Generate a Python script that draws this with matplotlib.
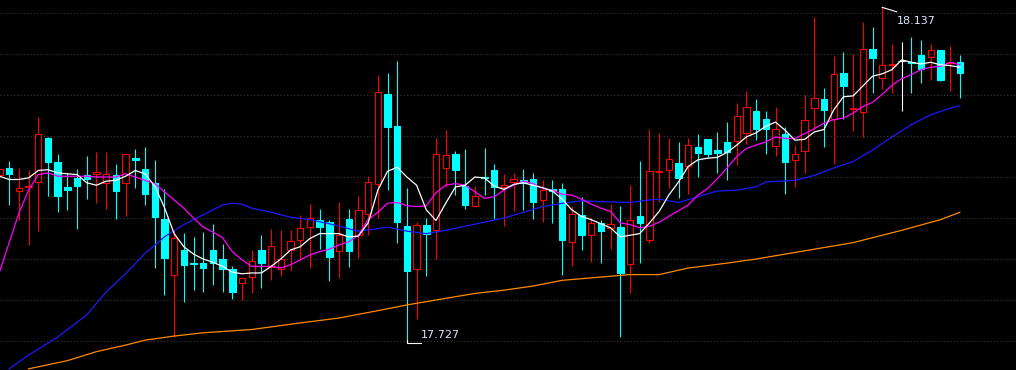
import matplotlib
matplotlib.use("Agg")
import matplotlib.pyplot as plt
import numpy as np

# daily K-line, 100 bars, prices
opens = [17.932, 17.941, 17.913, 17.918, 17.924, 17.978, 17.948, 17.918, 17.929, 17.932,
         17.934, 17.923, 17.932, 17.923, 17.953, 17.940, 17.923, 17.879, 17.811, 17.841,
         17.825, 17.825, 17.841, 17.830, 17.818, 17.801, 17.808, 17.841, 17.820, 17.818,
         17.841, 17.853, 17.869, 17.878, 17.875, 17.840, 17.879, 17.859, 17.885, 17.921,
         18.031, 17.992, 17.870, 17.818, 17.872, 17.865, 17.941, 17.958, 17.919, 17.895,
         17.930, 17.939, 17.918, 17.924, 17.926, 17.928, 17.902, 17.915, 17.915, 17.851,
         17.884, 17.859, 17.874, 17.868, 17.869, 17.824, 17.882, 17.853, 17.936, 17.939,
         17.947, 17.943, 17.967, 17.976, 17.963, 17.973, 17.974, 17.984, 18.011, 18.001,
         17.968, 17.983, 17.951, 17.962, 18.014, 18.025, 18.001, 18.057, 18.013, 18.009,
         18.086, 18.051, 18.067, 18.072, 18.070, 18.079, 18.076, 18.085, 18.069, 18.070]
highs = [17.941, 17.950, 17.941, 17.939, 18.003, 17.979, 17.958, 17.935, 17.940, 17.956,
         17.961, 17.961, 17.946, 17.958, 17.964, 17.967, 17.951, 17.915, 17.865, 17.862,
         17.857, 17.863, 17.873, 17.848, 17.821, 17.807, 17.841, 17.859, 17.867, 17.865,
         17.865, 17.884, 17.897, 17.891, 17.878, 17.900, 17.891, 17.907, 17.931, 18.055,
         18.057, 18.072, 17.917, 17.875, 17.880, 17.978, 17.987, 17.962, 17.964, 17.919,
         17.965, 17.946, 17.934, 17.935, 17.940, 17.935, 17.926, 17.926, 17.923, 17.895,
         17.906, 17.880, 17.878, 17.897, 17.895, 17.920, 17.950, 17.989, 17.984, 17.978,
         17.973, 17.978, 17.983, 17.976, 17.985, 17.997, 18.020, 18.035, 18.025, 18.011,
         18.015, 17.991, 17.969, 18.030, 18.125, 18.039, 18.078, 18.083, 18.080, 18.119,
         18.113, 18.137, 18.092, 18.095, 18.101, 18.097, 18.092, 18.085, 18.090, 18.079]
lows = [17.931, 17.896, 17.878, 17.847, 17.864, 17.907, 17.887, 17.890, 17.867, 17.903,
        17.898, 17.891, 17.879, 17.882, 17.917, 17.896, 17.819, 17.786, 17.735, 17.778,
        17.792, 17.790, 17.798, 17.790, 17.781, 17.780, 17.789, 17.795, 17.804, 17.809,
        17.815, 17.829, 17.819, 17.842, 17.803, 17.807, 17.820, 17.831, 17.859, 17.880,
        17.914, 17.850, 17.727, 17.757, 17.809, 17.830, 17.918, 17.908, 17.891, 17.893,
        17.908, 17.879, 17.870, 17.889, 17.890, 17.879, 17.875, 17.874, 17.811, 17.821,
        17.841, 17.826, 17.825, 17.842, 17.735, 17.789, 17.825, 17.850, 17.900, 17.917,
        17.904, 17.909, 17.930, 17.954, 17.935, 17.926, 17.945, 17.970, 17.975, 17.958,
        17.956, 17.909, 17.918, 17.935, 17.989, 17.967, 17.946, 18.001, 17.986, 17.979,
        18.033, 18.037, 18.033, 18.011, 18.033, 18.045, 18.048, 18.047, 18.035, 18.026]
closes = [17.940, 17.934, 17.917, 17.919, 17.983, 17.948, 17.907, 17.914, 17.919, 17.928,
          17.936, 17.934, 17.913, 17.958, 17.951, 17.909, 17.881, 17.831, 17.856, 17.823,
          17.824, 17.819, 17.825, 17.818, 17.790, 17.807, 17.828, 17.825, 17.846, 17.830,
          17.852, 17.868, 17.880, 17.869, 17.832, 17.859, 17.840, 17.890, 17.924, 18.034,
          17.991, 17.875, 17.815, 17.872, 17.861, 17.958, 17.957, 17.939, 17.896, 17.907,
          17.929, 17.918, 17.920, 17.928, 17.923, 17.900, 17.914, 17.913, 17.853, 17.885,
          17.859, 17.874, 17.864, 17.873, 17.813, 17.878, 17.874, 17.937, 17.937, 17.952,
          17.929, 17.969, 17.959, 17.958, 17.959, 17.961, 18.004, 18.015, 17.989, 17.989,
          17.989, 17.948, 17.958, 18.000, 18.026, 18.012, 18.056, 18.041, 18.014, 18.086,
          18.075, 18.067, 18.068, 18.072, 18.069, 18.062, 18.085, 18.048, 18.070, 18.057]

# moving averages (read per bar for the short ones)
ma_white = [17.931, 17.927, 17.927, 17.929, 17.938, 17.939, 17.935, 17.934, 17.933, 17.923,
            17.920, 17.925, 17.926, 17.931, 17.938, 17.934, 17.919, 17.893, 17.861, 17.845,
            17.836, 17.830, 17.826, 17.821, 17.814, 17.812, 17.813, 17.813, 17.821, 17.830,
            17.841, 17.845, 17.855, 17.861, 17.861, 17.861, 17.857, 17.858, 17.874, 17.914,
            17.937, 17.942, 17.930, 17.920, 17.890, 17.877, 17.898, 17.918, 17.920, 17.930,
            17.929, 17.919, 17.915, 17.921, 17.923, 17.920, 17.917, 17.913, 17.903, 17.890,
            17.882, 17.878, 17.873, 17.868, 17.857, 17.859, 17.861, 17.874, 17.888, 17.908,
            17.924, 17.943, 17.951, 17.953, 17.954, 17.960, 17.969, 17.979, 17.984, 17.992,
            17.997, 17.987, 17.975, 17.976, 17.985, 17.988, 18.012, 18.028, 18.029, 18.041,
            18.053, 18.056, 18.061, 18.073, 18.070, 18.068, 18.070, 18.067, 18.066, 18.064]
ma_magenta = [17.814, 17.850, 17.886, 17.914, 17.933, 17.935, 17.931, 17.931, 17.931, 17.931,
              17.930, 17.930, 17.930, 17.934, 17.930, 17.926, 17.922, 17.912, 17.902, 17.892,
              17.880, 17.869, 17.863, 17.856, 17.839, 17.829, 17.821, 17.821, 17.821, 17.819,
              17.823, 17.829, 17.835, 17.839, 17.842, 17.847, 17.851, 17.859, 17.878, 17.887,
              17.898, 17.899, 17.895, 17.894, 17.895, 17.911, 17.920, 17.922, 17.920, 17.912,
              17.904, 17.906, 17.914, 17.920, 17.925, 17.922, 17.916, 17.914, 17.909, 17.908,
              17.903, 17.897, 17.892, 17.888, 17.874, 17.872, 17.868, 17.870, 17.875, 17.882,
              17.889, 17.896, 17.908, 17.916, 17.928, 17.941, 17.955, 17.965, 17.969, 17.973,
              17.979, 17.977, 17.977, 17.983, 17.989, 17.996, 18.000, 18.002, 18.008, 18.016,
              18.021, 18.031, 18.042, 18.050, 18.055, 18.061, 18.064, 18.065, 18.070, 18.067]

# longer ones sampled every few bars
blue_idx = [1, 3, 4, 6, 8, 9, 11, 13, 15, 17, 19, 21, 23, 24, 25, 26, 28, 30, 32, 34,
            36, 37, 39, 40, 42, 44, 46, 48, 50, 52, 54, 56, 58, 60, 62, 65, 67, 68, 70, 72,
            74, 76, 78, 79, 82, 84, 86, 88, 90, 92, 94, 96, 98, 99]
ma_blue = [17.696, 17.713, 17.720, 17.735, 17.753, 17.762, 17.790, 17.812, 17.837, 17.857,
           17.872, 17.884, 17.896, 17.898, 17.897, 17.892, 17.887, 17.881, 17.878, 17.873,
           17.867, 17.864, 17.867, 17.869, 17.864, 17.861, 17.865, 17.870, 17.875, 17.880,
           17.887, 17.894, 17.898, 17.901, 17.900, 17.899, 17.902, 17.903, 17.899, 17.906,
           17.913, 17.914, 17.918, 17.924, 17.926, 17.932, 17.941, 17.949, 17.963, 17.979,
           17.994, 18.006, 18.014, 18.017]
orange_idx = [3, 7, 10, 13, 15, 18, 21, 26, 31, 35, 39, 42, 46, 49, 52, 55, 58, 62, 65, 68,
              71, 75, 78, 84, 88, 91, 93, 97, 99]
ma_orange = [17.696, 17.706, 17.717, 17.725, 17.731, 17.736, 17.740, 17.744, 17.752, 17.758,
             17.767, 17.774, 17.782, 17.788, 17.792, 17.797, 17.804, 17.808, 17.811, 17.811,
             17.819, 17.825, 17.830, 17.842, 17.850, 17.859, 17.865, 17.878, 17.887]

grid_levels = [17.73, 17.78, 17.83, 17.88, 17.93, 17.98, 18.03, 18.08, 18.13]

RED = "#ff0000"
CYAN = "#00ffff"

o = np.array(opens)
h = np.array(highs)
l = np.array(lows)
c = np.array(closes)
x = np.arange(len(o))

up = c > o
down = c < o
flat = c == o
wick_colors = np.where(up, RED, np.where(down, CYAN, "white"))

fig = plt.figure(figsize=(10.16, 3.70), dpi=100, facecolor="black")
ax = fig.add_axes([0, 0, 1, 1])
ax.set_facecolor("black")

# dotted horizontal grid
for lev in grid_levels:
    ax.axhline(lev, color="#3a3a3a", lw=0.8, ls=(0, (1, 2)), zorder=0)

# wicks first, bodies on top (red ones hollow)
ax.vlines(x, l, h, colors=wick_colors, lw=0.8, zorder=2)
bw = 0.66
ax.bar(x[up], (c - o)[up], bottom=o[up], width=bw, facecolor="black",
       edgecolor=RED, linewidth=0.8, zorder=3)
ax.bar(x[down], (o - c)[down], bottom=c[down], width=bw, facecolor=CYAN,
       edgecolor=CYAN, linewidth=0.8, zorder=3)
ax.hlines(o[flat], x[flat] - bw / 2, x[flat] + bw / 2, colors="white", lw=0.8, zorder=3)

# moving averages
ax.plot(blue_idx, ma_blue, color="#1a1aff", lw=0.9, zorder=4)
ax.plot(orange_idx, ma_orange, color="#ff8a00", lw=0.9, zorder=4)
ax.plot(x, ma_magenta, color="#ff00ff", lw=0.9, zorder=5)
ax.plot(x, ma_white, color="white", lw=0.9, zorder=6)

# max / min markers
hi = int(np.argmax(h))
ax.plot([hi, hi + 1.48], [h[hi], h[hi] - 0.0054], color="white", lw=0.8, zorder=7)
ax.text(hi + 1.55, h[hi] - 0.0165, f"{h[hi]:.3f}", color="#dfe8ff", fontsize=8,
        ha="left", va="center", zorder=7)
lo = int(np.argmin(l))
ax.plot([lo, lo, lo + 1.45], [l[lo] + 0.004, l[lo], l[lo]], color="white", lw=0.8, zorder=7)
ax.text(lo + 1.45, l[lo] + 0.0105, f"{l[lo]:.3f}", color="#dfe8ff", fontsize=8,
        ha="left", va="center", zorder=7)

ax.set_xlim(0.052, 104.79)
ax.set_ylim(17.6946, 18.146)
ax.set_xticks([])
ax.set_yticks([])
for s in ax.spines.values():
    s.set_visible(False)

fig.savefig("out.png", dpi=100, facecolor="black")
